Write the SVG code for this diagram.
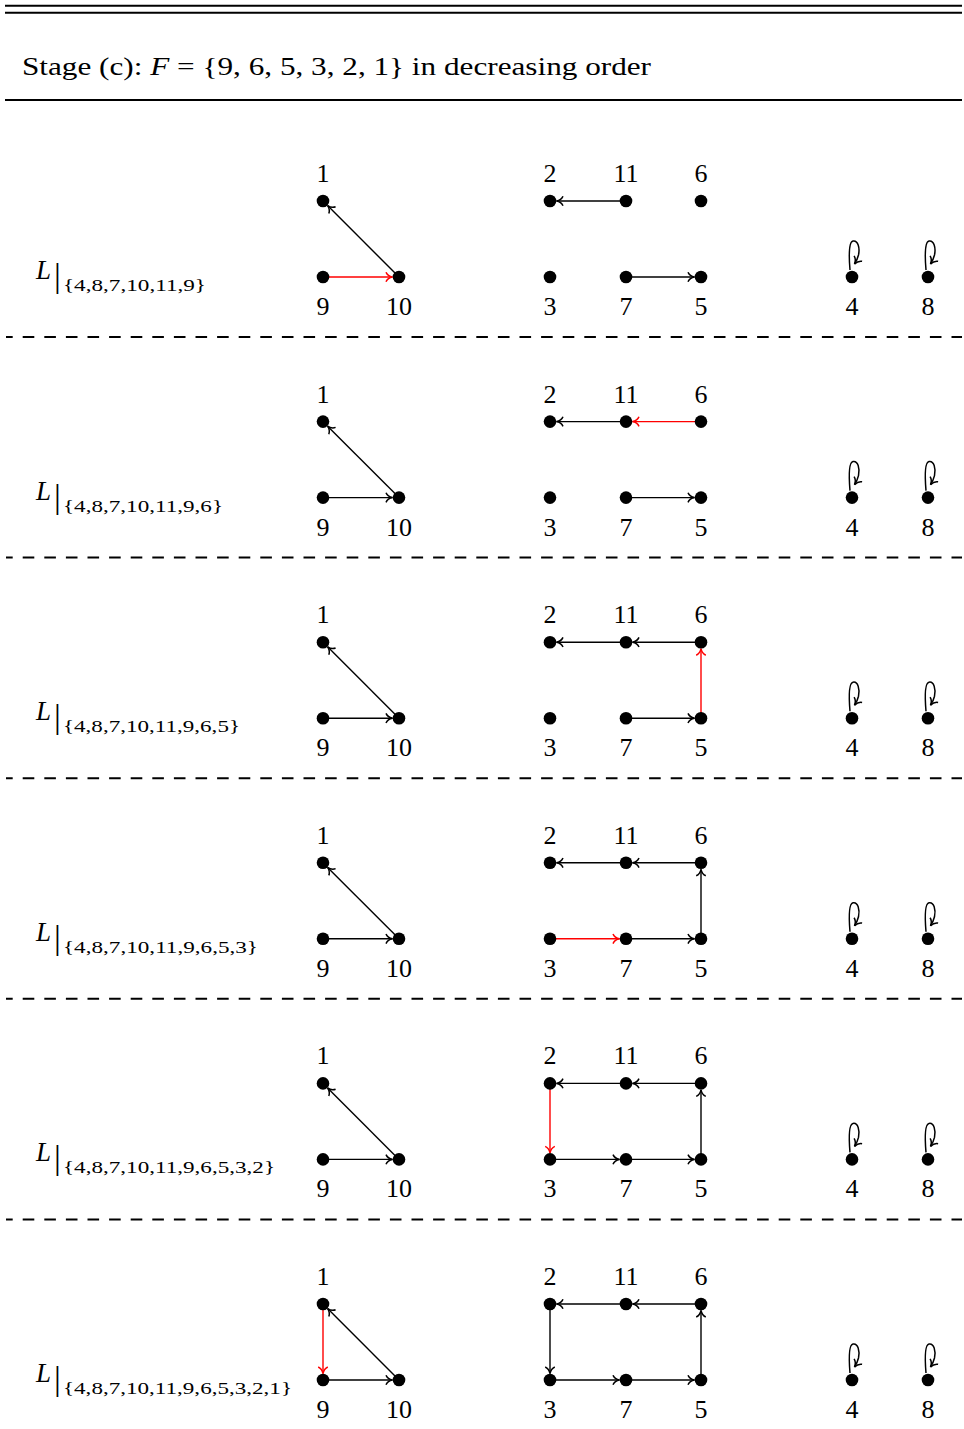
<svg xmlns="http://www.w3.org/2000/svg" width="964" height="1429" viewBox="0 0 964 1429">
<style>
text{font-family:"Liberation Serif","Times New Roman",Times,serif;fill:#000}
.lbl{font-size:26px;text-anchor:middle}
.dot{fill:#000}
.e{stroke:#000;stroke-width:1.4;fill:none;marker-end:url(#ah)}
.r{stroke:#f00;stroke-width:1.4;fill:none;marker-end:url(#ahr)}
.loop{stroke:#000;stroke-width:1.5;fill:none;marker-end:url(#ah)}
.rule{stroke:#000;stroke-width:2}
.dash{stroke:#000;stroke-width:2;stroke-dasharray:11.6 10;stroke-dashoffset:4.9}
.rl{font-size:27px}
.bar{font-size:34px}
.sub{font-size:17px}
</style>
<defs>
<marker id="ah" viewBox="-8 -6 9 12" refX="0" refY="0" markerWidth="9" markerHeight="12" markerUnits="userSpaceOnUse" orient="auto">
<path d="M-6.5,-4.8 C-5.2,-1.9 -2.4,-0.5 0,0 C-2.4,0.5 -5.2,1.9 -6.5,4.8" fill="none" stroke="#000" stroke-width="1.5"/>
</marker>
<marker id="ahr" viewBox="-8 -6 9 12" refX="0" refY="0" markerWidth="9" markerHeight="12" markerUnits="userSpaceOnUse" orient="auto">
<path d="M-6.5,-4.8 C-5.2,-1.9 -2.4,-0.5 0,0 C-2.4,0.5 -5.2,1.9 -6.5,4.8" fill="none" stroke="#f00" stroke-width="1.5"/>
</marker>
</defs>
<g id="header">
<line class="rule" x1="5" y1="5.7" x2="962" y2="5.7"/>
<line class="rule" x1="5" y1="12.7" x2="962" y2="12.7"/>
<text x="22" y="75" font-size="25" textLength="629" lengthAdjust="spacingAndGlyphs">Stage (c):  <tspan font-style="italic">F</tspan> = {9, 6, 5, 3, 2, 1}  in decreasing order</text>
<line class="rule" x1="5" y1="100" x2="962" y2="100"/>
</g>
<g id="separators">
<line class="dash" x1="6" y1="337" x2="962" y2="337"/>
<line class="dash" x1="6" y1="557.6" x2="962" y2="557.6"/>
<line class="dash" x1="6" y1="778.2" x2="962" y2="778.2"/>
<line class="dash" x1="6" y1="998.8" x2="962" y2="998.8"/>
<line class="dash" x1="6" y1="1219.4" x2="962" y2="1219.4"/>
</g>

<!-- Row 1 -->
<g id="row1">
<g id="row1-label"><text class="rl" x="36" y="279" font-style="italic">L</text><text class="bar" x="54" y="287">|</text><text class="sub" x="63" y="291" textLength="143" lengthAdjust="spacingAndGlyphs">{4,8,7,10,11,9}</text></g>
<g id="row1-edges">
<path class="e" d="M399,277 L327.6,205.6"/>
<path class="r" d="M323,277 L392.5,277"/>
<path class="e" d="M626,201 L556.5,201"/>
<path class="e" d="M626,277 L694.5,277"/>
<path class="loop" d="M850,270 C849,258 848,242 853,241 C858,240 860,248 858.5,255 C857.5,259 856.5,261 854.5,264"/>
<path class="loop" d="M926,270 C925,258 924,242 929,241 C934,240 936,248 934.5,255 C933.5,259 932.5,261 930.5,264"/>
</g>
<g id="row1-n1"><circle class="dot" cx="323" cy="201" r="6.3"/><text class="lbl" x="323" y="182">1</text></g>
<g id="row1-n9"><circle class="dot" cx="323" cy="277" r="6.3"/><text class="lbl" x="323" y="315">9</text></g>
<g id="row1-n10"><circle class="dot" cx="399" cy="277" r="6.3"/><text class="lbl" x="399" y="315">10</text></g>
<g id="row1-n2"><circle class="dot" cx="550" cy="201" r="6.3"/><text class="lbl" x="550" y="182">2</text></g>
<g id="row1-n11"><circle class="dot" cx="626" cy="201" r="6.3"/><text class="lbl" x="626" y="182">11</text></g>
<g id="row1-n6"><circle class="dot" cx="701" cy="201" r="6.3"/><text class="lbl" x="701" y="182">6</text></g>
<g id="row1-n3"><circle class="dot" cx="550" cy="277" r="6.3"/><text class="lbl" x="550" y="315">3</text></g>
<g id="row1-n7"><circle class="dot" cx="626" cy="277" r="6.3"/><text class="lbl" x="626" y="315">7</text></g>
<g id="row1-n5"><circle class="dot" cx="701" cy="277" r="6.3"/><text class="lbl" x="701" y="315">5</text></g>
<g id="row1-n4"><circle class="dot" cx="852" cy="277" r="6.3"/><text class="lbl" x="852" y="315">4</text></g>
<g id="row1-n8"><circle class="dot" cx="928" cy="277" r="6.3"/><text class="lbl" x="928" y="315">8</text></g>
</g>

<!-- Row 2 -->
<g id="row2" transform="translate(0,220.6)">
<g id="row2-label"><text class="rl" x="36" y="279" font-style="italic">L</text><text class="bar" x="54" y="287">|</text><text class="sub" x="63" y="291" textLength="160" lengthAdjust="spacingAndGlyphs">{4,8,7,10,11,9,6}</text></g>
<g id="row2-edges">
<path class="e" d="M399,277 L327.6,205.6"/>
<path class="e" d="M323,277 L392.5,277"/>
<path class="e" d="M626,201 L556.5,201"/>
<path class="r" d="M701,201 L632.5,201"/>
<path class="e" d="M626,277 L694.5,277"/>
<path class="loop" d="M850,270 C849,258 848,242 853,241 C858,240 860,248 858.5,255 C857.5,259 856.5,261 854.5,264"/>
<path class="loop" d="M926,270 C925,258 924,242 929,241 C934,240 936,248 934.5,255 C933.5,259 932.5,261 930.5,264"/>
</g>
<g id="row2-n1"><circle class="dot" cx="323" cy="201" r="6.3"/><text class="lbl" x="323" y="182">1</text></g>
<g id="row2-n9"><circle class="dot" cx="323" cy="277" r="6.3"/><text class="lbl" x="323" y="315">9</text></g>
<g id="row2-n10"><circle class="dot" cx="399" cy="277" r="6.3"/><text class="lbl" x="399" y="315">10</text></g>
<g id="row2-n2"><circle class="dot" cx="550" cy="201" r="6.3"/><text class="lbl" x="550" y="182">2</text></g>
<g id="row2-n11"><circle class="dot" cx="626" cy="201" r="6.3"/><text class="lbl" x="626" y="182">11</text></g>
<g id="row2-n6"><circle class="dot" cx="701" cy="201" r="6.3"/><text class="lbl" x="701" y="182">6</text></g>
<g id="row2-n3"><circle class="dot" cx="550" cy="277" r="6.3"/><text class="lbl" x="550" y="315">3</text></g>
<g id="row2-n7"><circle class="dot" cx="626" cy="277" r="6.3"/><text class="lbl" x="626" y="315">7</text></g>
<g id="row2-n5"><circle class="dot" cx="701" cy="277" r="6.3"/><text class="lbl" x="701" y="315">5</text></g>
<g id="row2-n4"><circle class="dot" cx="852" cy="277" r="6.3"/><text class="lbl" x="852" y="315">4</text></g>
<g id="row2-n8"><circle class="dot" cx="928" cy="277" r="6.3"/><text class="lbl" x="928" y="315">8</text></g>
</g>

<!-- Row 3 -->
<g id="row3" transform="translate(0,441.2)">
<g id="row3-label"><text class="rl" x="36" y="279" font-style="italic">L</text><text class="bar" x="54" y="287">|</text><text class="sub" x="63" y="291" textLength="177" lengthAdjust="spacingAndGlyphs">{4,8,7,10,11,9,6,5}</text></g>
<g id="row3-edges">
<path class="e" d="M399,277 L327.6,205.6"/>
<path class="e" d="M323,277 L392.5,277"/>
<path class="e" d="M626,201 L556.5,201"/>
<path class="e" d="M701,201 L632.5,201"/>
<path class="e" d="M626,277 L694.5,277"/>
<path class="r" d="M701,277 L701,207.5"/>
<path class="loop" d="M850,270 C849,258 848,242 853,241 C858,240 860,248 858.5,255 C857.5,259 856.5,261 854.5,264"/>
<path class="loop" d="M926,270 C925,258 924,242 929,241 C934,240 936,248 934.5,255 C933.5,259 932.5,261 930.5,264"/>
</g>
<g id="row3-n1"><circle class="dot" cx="323" cy="201" r="6.3"/><text class="lbl" x="323" y="182">1</text></g>
<g id="row3-n9"><circle class="dot" cx="323" cy="277" r="6.3"/><text class="lbl" x="323" y="315">9</text></g>
<g id="row3-n10"><circle class="dot" cx="399" cy="277" r="6.3"/><text class="lbl" x="399" y="315">10</text></g>
<g id="row3-n2"><circle class="dot" cx="550" cy="201" r="6.3"/><text class="lbl" x="550" y="182">2</text></g>
<g id="row3-n11"><circle class="dot" cx="626" cy="201" r="6.3"/><text class="lbl" x="626" y="182">11</text></g>
<g id="row3-n6"><circle class="dot" cx="701" cy="201" r="6.3"/><text class="lbl" x="701" y="182">6</text></g>
<g id="row3-n3"><circle class="dot" cx="550" cy="277" r="6.3"/><text class="lbl" x="550" y="315">3</text></g>
<g id="row3-n7"><circle class="dot" cx="626" cy="277" r="6.3"/><text class="lbl" x="626" y="315">7</text></g>
<g id="row3-n5"><circle class="dot" cx="701" cy="277" r="6.3"/><text class="lbl" x="701" y="315">5</text></g>
<g id="row3-n4"><circle class="dot" cx="852" cy="277" r="6.3"/><text class="lbl" x="852" y="315">4</text></g>
<g id="row3-n8"><circle class="dot" cx="928" cy="277" r="6.3"/><text class="lbl" x="928" y="315">8</text></g>
</g>

<!-- Row 4 -->
<g id="row4" transform="translate(0,661.8)">
<g id="row4-label"><text class="rl" x="36" y="279" font-style="italic">L</text><text class="bar" x="54" y="287">|</text><text class="sub" x="63" y="291" textLength="195" lengthAdjust="spacingAndGlyphs">{4,8,7,10,11,9,6,5,3}</text></g>
<g id="row4-edges">
<path class="e" d="M399,277 L327.6,205.6"/>
<path class="e" d="M323,277 L392.5,277"/>
<path class="e" d="M626,201 L556.5,201"/>
<path class="e" d="M701,201 L632.5,201"/>
<path class="e" d="M626,277 L694.5,277"/>
<path class="e" d="M701,277 L701,207.5"/>
<path class="r" d="M550,277 L619.5,277"/>
<path class="loop" d="M850,270 C849,258 848,242 853,241 C858,240 860,248 858.5,255 C857.5,259 856.5,261 854.5,264"/>
<path class="loop" d="M926,270 C925,258 924,242 929,241 C934,240 936,248 934.5,255 C933.5,259 932.5,261 930.5,264"/>
</g>
<g id="row4-n1"><circle class="dot" cx="323" cy="201" r="6.3"/><text class="lbl" x="323" y="182">1</text></g>
<g id="row4-n9"><circle class="dot" cx="323" cy="277" r="6.3"/><text class="lbl" x="323" y="315">9</text></g>
<g id="row4-n10"><circle class="dot" cx="399" cy="277" r="6.3"/><text class="lbl" x="399" y="315">10</text></g>
<g id="row4-n2"><circle class="dot" cx="550" cy="201" r="6.3"/><text class="lbl" x="550" y="182">2</text></g>
<g id="row4-n11"><circle class="dot" cx="626" cy="201" r="6.3"/><text class="lbl" x="626" y="182">11</text></g>
<g id="row4-n6"><circle class="dot" cx="701" cy="201" r="6.3"/><text class="lbl" x="701" y="182">6</text></g>
<g id="row4-n3"><circle class="dot" cx="550" cy="277" r="6.3"/><text class="lbl" x="550" y="315">3</text></g>
<g id="row4-n7"><circle class="dot" cx="626" cy="277" r="6.3"/><text class="lbl" x="626" y="315">7</text></g>
<g id="row4-n5"><circle class="dot" cx="701" cy="277" r="6.3"/><text class="lbl" x="701" y="315">5</text></g>
<g id="row4-n4"><circle class="dot" cx="852" cy="277" r="6.3"/><text class="lbl" x="852" y="315">4</text></g>
<g id="row4-n8"><circle class="dot" cx="928" cy="277" r="6.3"/><text class="lbl" x="928" y="315">8</text></g>
</g>

<!-- Row 5 -->
<g id="row5" transform="translate(0,882.4)">
<g id="row5-label"><text class="rl" x="36" y="279" font-style="italic">L</text><text class="bar" x="54" y="287">|</text><text class="sub" x="63" y="291" textLength="212" lengthAdjust="spacingAndGlyphs">{4,8,7,10,11,9,6,5,3,2}</text></g>
<g id="row5-edges">
<path class="e" d="M399,277 L327.6,205.6"/>
<path class="e" d="M323,277 L392.5,277"/>
<path class="e" d="M626,201 L556.5,201"/>
<path class="e" d="M701,201 L632.5,201"/>
<path class="e" d="M626,277 L694.5,277"/>
<path class="e" d="M701,277 L701,207.5"/>
<path class="e" d="M550,277 L619.5,277"/>
<path class="r" d="M550,201 L550,270.5"/>
<path class="loop" d="M850,270 C849,258 848,242 853,241 C858,240 860,248 858.5,255 C857.5,259 856.5,261 854.5,264"/>
<path class="loop" d="M926,270 C925,258 924,242 929,241 C934,240 936,248 934.5,255 C933.5,259 932.5,261 930.5,264"/>
</g>
<g id="row5-n1"><circle class="dot" cx="323" cy="201" r="6.3"/><text class="lbl" x="323" y="182">1</text></g>
<g id="row5-n9"><circle class="dot" cx="323" cy="277" r="6.3"/><text class="lbl" x="323" y="315">9</text></g>
<g id="row5-n10"><circle class="dot" cx="399" cy="277" r="6.3"/><text class="lbl" x="399" y="315">10</text></g>
<g id="row5-n2"><circle class="dot" cx="550" cy="201" r="6.3"/><text class="lbl" x="550" y="182">2</text></g>
<g id="row5-n11"><circle class="dot" cx="626" cy="201" r="6.3"/><text class="lbl" x="626" y="182">11</text></g>
<g id="row5-n6"><circle class="dot" cx="701" cy="201" r="6.3"/><text class="lbl" x="701" y="182">6</text></g>
<g id="row5-n3"><circle class="dot" cx="550" cy="277" r="6.3"/><text class="lbl" x="550" y="315">3</text></g>
<g id="row5-n7"><circle class="dot" cx="626" cy="277" r="6.3"/><text class="lbl" x="626" y="315">7</text></g>
<g id="row5-n5"><circle class="dot" cx="701" cy="277" r="6.3"/><text class="lbl" x="701" y="315">5</text></g>
<g id="row5-n4"><circle class="dot" cx="852" cy="277" r="6.3"/><text class="lbl" x="852" y="315">4</text></g>
<g id="row5-n8"><circle class="dot" cx="928" cy="277" r="6.3"/><text class="lbl" x="928" y="315">8</text></g>
</g>

<!-- Row 6 -->
<g id="row6" transform="translate(0,1103)">
<g id="row6-label"><text class="rl" x="36" y="279" font-style="italic">L</text><text class="bar" x="54" y="287">|</text><text class="sub" x="63" y="291" textLength="229" lengthAdjust="spacingAndGlyphs">{4,8,7,10,11,9,6,5,3,2,1}</text></g>
<g id="row6-edges">
<path class="e" d="M399,277 L327.6,205.6"/>
<path class="e" d="M323,277 L392.5,277"/>
<path class="e" d="M626,201 L556.5,201"/>
<path class="e" d="M701,201 L632.5,201"/>
<path class="e" d="M626,277 L694.5,277"/>
<path class="e" d="M701,277 L701,207.5"/>
<path class="e" d="M550,277 L619.5,277"/>
<path class="e" d="M550,201 L550,270.5"/>
<path class="r" d="M323,201 L323,270.5"/>
<path class="loop" d="M850,270 C849,258 848,242 853,241 C858,240 860,248 858.5,255 C857.5,259 856.5,261 854.5,264"/>
<path class="loop" d="M926,270 C925,258 924,242 929,241 C934,240 936,248 934.5,255 C933.5,259 932.5,261 930.5,264"/>
</g>
<g id="row6-n1"><circle class="dot" cx="323" cy="201" r="6.3"/><text class="lbl" x="323" y="182">1</text></g>
<g id="row6-n9"><circle class="dot" cx="323" cy="277" r="6.3"/><text class="lbl" x="323" y="315">9</text></g>
<g id="row6-n10"><circle class="dot" cx="399" cy="277" r="6.3"/><text class="lbl" x="399" y="315">10</text></g>
<g id="row6-n2"><circle class="dot" cx="550" cy="201" r="6.3"/><text class="lbl" x="550" y="182">2</text></g>
<g id="row6-n11"><circle class="dot" cx="626" cy="201" r="6.3"/><text class="lbl" x="626" y="182">11</text></g>
<g id="row6-n6"><circle class="dot" cx="701" cy="201" r="6.3"/><text class="lbl" x="701" y="182">6</text></g>
<g id="row6-n3"><circle class="dot" cx="550" cy="277" r="6.3"/><text class="lbl" x="550" y="315">3</text></g>
<g id="row6-n7"><circle class="dot" cx="626" cy="277" r="6.3"/><text class="lbl" x="626" y="315">7</text></g>
<g id="row6-n5"><circle class="dot" cx="701" cy="277" r="6.3"/><text class="lbl" x="701" y="315">5</text></g>
<g id="row6-n4"><circle class="dot" cx="852" cy="277" r="6.3"/><text class="lbl" x="852" y="315">4</text></g>
<g id="row6-n8"><circle class="dot" cx="928" cy="277" r="6.3"/><text class="lbl" x="928" y="315">8</text></g>
</g>
</svg>
